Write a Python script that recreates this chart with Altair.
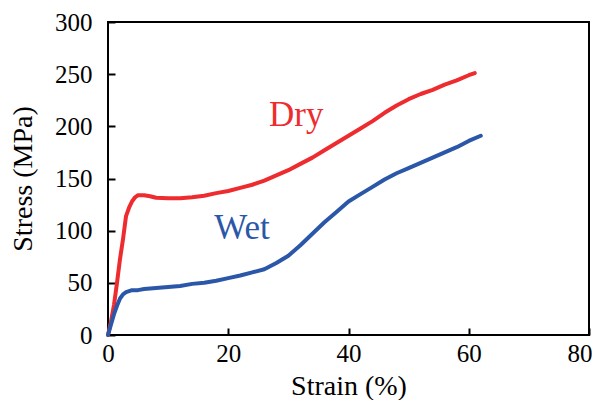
import altair as alt
import pandas as pd

# Dry (red) curve: strain (%) and stress (MPa)
dry_strain = [0, 0.5, 1, 1.5, 2, 2.5, 3, 3.5, 4, 4.5, 5, 6, 7, 8, 10, 12, 14, 16, 18, 20,
              22, 24, 26, 28, 30, 32, 34, 36, 38, 40, 42, 44, 46, 48, 50, 52, 54, 56, 58, 60, 61]
dry_stress = [0, 13, 29, 50, 73, 92, 114, 122, 128, 132, 134, 134, 133, 131.5, 131, 131, 132, 133.5, 136, 138,
              141, 144, 148, 153, 158, 164, 170, 177, 184, 191, 198, 205, 213, 220, 226, 231, 235, 240, 244, 249, 251]

# Wet (blue) curve
wet_strain = [0, 0.5, 1, 1.5, 2, 2.5, 3, 4, 5, 6, 8, 10, 12, 14, 16, 18, 20, 22, 24, 26,
              28, 30, 32, 34, 36, 38, 40, 42, 44, 46, 48, 50, 52, 54, 56, 58, 60, 62]
wet_stress = [0, 10, 20, 28, 35, 39, 41, 43, 43, 44, 45, 46, 47, 49, 50, 52, 54.5, 57, 60, 63,
              69, 76, 86, 97, 108, 118, 128, 135, 142, 149, 155, 160, 165, 170, 175, 180, 186, 191]

series_names = ["Dry", "Wet"]
series_colors = ["#EE2C2F", "#2B57A8"]

# in-plot labels (data coordinates)
label_text = ["Dry", "Wet"]
label_x = [31.3, 22.3]
label_y = [211, 103]

rows = []
for s, v in zip(dry_strain, dry_stress):
    rows.append({"strain": s, "stress": v, "series": "Dry"})
for s, v in zip(wet_strain, wet_stress):
    rows.append({"strain": s, "stress": v, "series": "Wet"})
df = pd.DataFrame(rows)

labels = pd.DataFrame({"series": label_text, "strain": label_x, "stress": label_y})

FONT = "Liberation Serif"

color = alt.Color("series:N", scale=alt.Scale(domain=series_names, range=series_colors), legend=None)

x = alt.X("strain:Q", scale=alt.Scale(domain=[0, 80], nice=False),
          axis=alt.Axis(title="Strain (%)", values=[0, 20, 40, 60, 80], grid=False, domain=False,
                        offset=-7, tickSize=7, tickWidth=2, tickColor="black",
                        labelFlush=False, labelOverlap=False,
                        labelAlign=alt.ExprRef("datum.value == 80 ? 'right' : 'center'"),
                        labelOffset=alt.ExprRef("datum.value == 80 ? 3 : 0"),
                        labelPadding=6, labelFontSize=25, labelFont=FONT, labelColor="black",
                        titleFont=FONT, titleFontSize=28, titleFontWeight="normal", titleColor="black",
                        titlePadding=6))
y = alt.Y("stress:Q", scale=alt.Scale(domain=[0, 300], nice=False),
          axis=alt.Axis(title="Stress (MPa)", values=[0, 50, 100, 150, 200, 250, 300], grid=False, domain=False,
                        offset=-7, tickSize=7, tickWidth=2, tickColor="black",
                        labelFlush=False, labelOverlap=False,
                        labelPadding=16, labelFontSize=25, labelFont=FONT, labelColor="black",
                        titleFont=FONT, titleFontSize=28, titleFontWeight="normal", titleColor="black",
                        titlePadding=17))

lines = alt.Chart(df).mark_line(strokeWidth=4, strokeJoin="round", strokeCap="round").encode(
    x=x, y=y, color=color, order="strain:Q", detail="series:N")

text = alt.Chart(labels).mark_text(font=FONT, fontSize=35, align="center", baseline="middle").encode(
    x=alt.X("strain:Q"), y=alt.Y("stress:Q"), text="series:N", color=color)

chart = alt.layer(lines, text).properties(
    width=481, height=313,
    autosize=alt.AutoSizeParams(type="none"),
    padding={"left": 100, "top": 14, "right": 3, "bottom": 65},
).configure_view(stroke="black", strokeWidth=2)

chart.save("out.html", embed_options={"renderer": "svg", "actions": False})
